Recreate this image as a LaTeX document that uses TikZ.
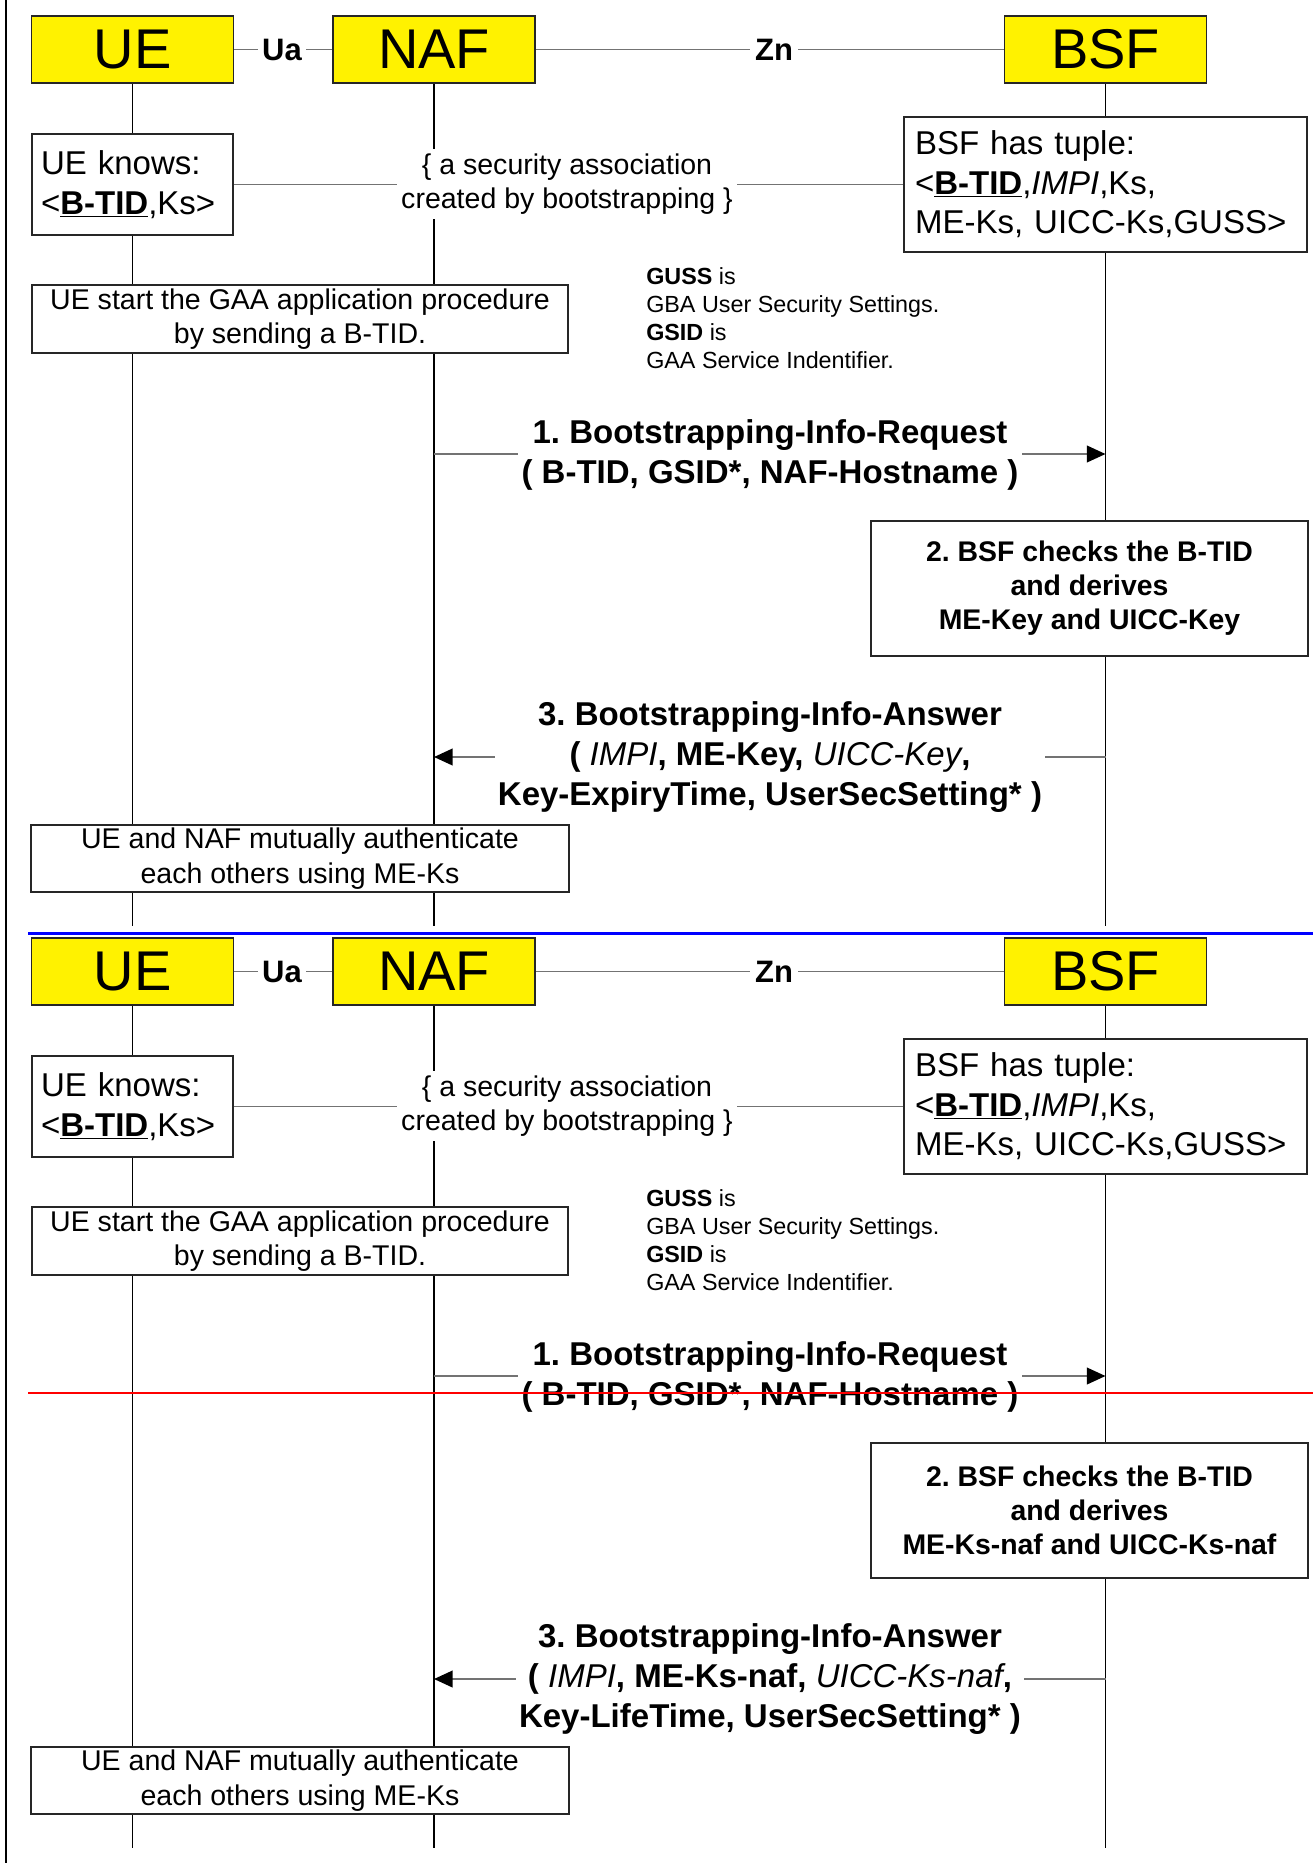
\documentclass[tikz,border=0pt]{standalone}
\usepackage{fontspec}
\setmainfont{Liberation Sans}
\usetikzlibrary{arrows.meta}
\pgfdeclarelayer{bg}
\pgfsetlayers{bg,main}

\tikzset{
  sz/.style 2 args={minimum width=#1*0.75pt, minimum height=#2*0.75pt},
  fhead/.style={font=\fontsize{42pt}{50pt}\selectfont},
  fbig/.style={font=\fontsize{24.75pt}{29.7pt}\selectfont},
  fmid/.style={font=\fontsize{21.4pt}{26pt}\selectfont},
  fsmall/.style={font=\fontsize{17.5pt}{21pt}\selectfont},
  fbox/.style={font=\bfseries\fontsize{21.3pt}{25.5pt}\selectfont},
  frame/.style={draw=black!85, line width=1.1pt, fill=white, inner sep=0pt},
  head/.style={frame, fill=yellow, fhead, sz={202}{67}},
  iface/.style={fill=white, inner xsep=3.5pt, inner ysep=1pt,
    font=\bfseries\fontsize{23.25pt}{28pt}\selectfont},
  link/.style={draw=black!55, line width=0.6pt},
  life/.style={draw=black, line width=1.1pt},
  msgtext/.style={fill=white, align=center, inner xsep=2.5pt, inner ysep=1pt,
    font=\bfseries\fontsize{24.75pt}{30pt}\selectfont},
  msg/.style={draw=black!55, line width=1.5pt,
    -{Triangle[length=14pt,width=12.5pt,color=black]}},
}

% One bootstrapping-usage exchange: UE, NAF and BSF with their messages.
% #1 name suffix, #2 keys derived in step 2, #3/#4 keys in the answer, #5 lifetime field
\newcommand\gbaflow[5]{%
  \node[head] (ue#1)  at (132.5,49.5) {UE};
  \node[head] (naf#1) at (434,49.5)   {NAF};
  \node[head] (bsf#1) at (1105.5,49.5) {BSF};
  \node[iface] (ua#1) at (282,49.5) {Ua};
  \node[iface] (zn#1) at (774,49.5) {Zn};

  \node[frame, sz={201}{101}, text width=183*0.75pt, inner xsep=9*0.75pt,
        align=left, fbig] (knows#1) at (132.5,184.5)
        {UE knows:\\<\underline{\textbf{B-TID}},Ks>};
  \node[frame, sz={403}{135}, text width=381*0.75pt, inner xsep=11*0.75pt,
        align=left, fbig] (tuple#1) at (1105.5,184.5)
        {BSF has tuple:\\<\underline{\textbf{B-TID}},\textit{IMPI},Ks,\\ME-Ks, UICC-Ks,GUSS>};
  \node[fill=white, align=center, inner sep=3pt, fmid] (sa#1) at (567,184)
        {\{ a security association\\created by bootstrapping \}};

  \node[frame, sz={536}{68}, align=center, fmid] (start#1) at (300,319)
        {UE start the GAA application procedure\\by sending a B-TID.};
  \node[align=left, anchor=west, inner sep=0pt, fsmall] (note#1) at (646,318.5)
        {\textbf{GUSS} is\\GBA User Security Settings.\\\textbf{GSID} is\\GAA Service Indentifier.};

  \coordinate (rqa#1) at (434,454);
  \coordinate (rqb#1) at (1105.5,454);
  \node[msgtext] (req#1) at (770,455)
        {1. Bootstrapping-Info-Request\\( B-TID, GSID*, NAF-Hostname )};

  \node[frame, sz={437}{135}, align=center, fbox] (chk#1) at (1089.5,588.5)
        {2. BSF checks the B-TID\\and derives\\#2};

  \coordinate (ana#1) at (1105.5,757);
  \coordinate (anb#1) at (434,757);
  \node[msgtext] (ans#1) at (770,757.5)
        {3. Bootstrapping-Info-Answer\\( {\mdseries\itshape IMPI}, #3, {\mdseries\itshape #4},\\#5, UserSecSetting* )};

  \node[frame, sz={538}{67}, align=center, fmid] (auth#1) at (300,858.5)
        {UE and NAF mutually authenticate\\each others using ME-Ks};

  \coordinate (ueend#1)  at (132.5,926);
  \coordinate (nafend#1) at (434,926);
  \coordinate (bsfend#1) at (1105.5,926);

  \begin{pgfonlayer}{bg}
    \draw[life] (ue#1.south)  -- (ueend#1);
    \draw[life] (naf#1.south) -- (nafend#1);
    \draw[life] (bsf#1.south) -- (bsfend#1);
    \draw[link] (ue#1.east)  -- (naf#1.west);
    \draw[link] (naf#1.east) -- (bsf#1.west);
    \draw[link] (knows#1.east) -- (tuple#1.west);
    \draw[msg] (rqa#1) -- (rqb#1);
    \draw[msg] (ana#1) -- (anb#1);
  \end{pgfonlayer}
}

\begin{document}
\frenchspacing
\begin{tikzpicture}[x=0.75pt,y=-0.75pt]
  \useasboundingbox (0,0) rectangle (1313,1863);

  % left page rule
  \coordinate (ruletop) at (5.5,0);
  \coordinate (rulebot) at (5.5,1863);
  \draw[line width=1.5pt] (ruletop) -- (rulebot);

  % first exchange
  \gbaflow{A}{ME-Key and UICC-Key}{ME-Key}{UICC-Key}{Key-ExpiryTime}

  % separator
  \coordinate (sepl) at (28,933.5);
  \coordinate (sepr) at (1313,933.5);
  \draw[blue, line width=2.25pt] (sepl) -- (sepr);

  % second exchange
  \begin{scope}[yshift=-691.5pt]
    \gbaflow{B}{ME-Ks-naf and UICC-Ks-naf}{ME-Ks-naf}{UICC-Ks-naf}{Key-LifeTime}
  \end{scope}

  % red marker line across the second request
  \coordinate (markl) at (28,1393);
  \coordinate (markr) at (1313,1393);
  \draw[red, line width=1.5pt] (markl) -- (markr);
\end{tikzpicture}
\end{document}
